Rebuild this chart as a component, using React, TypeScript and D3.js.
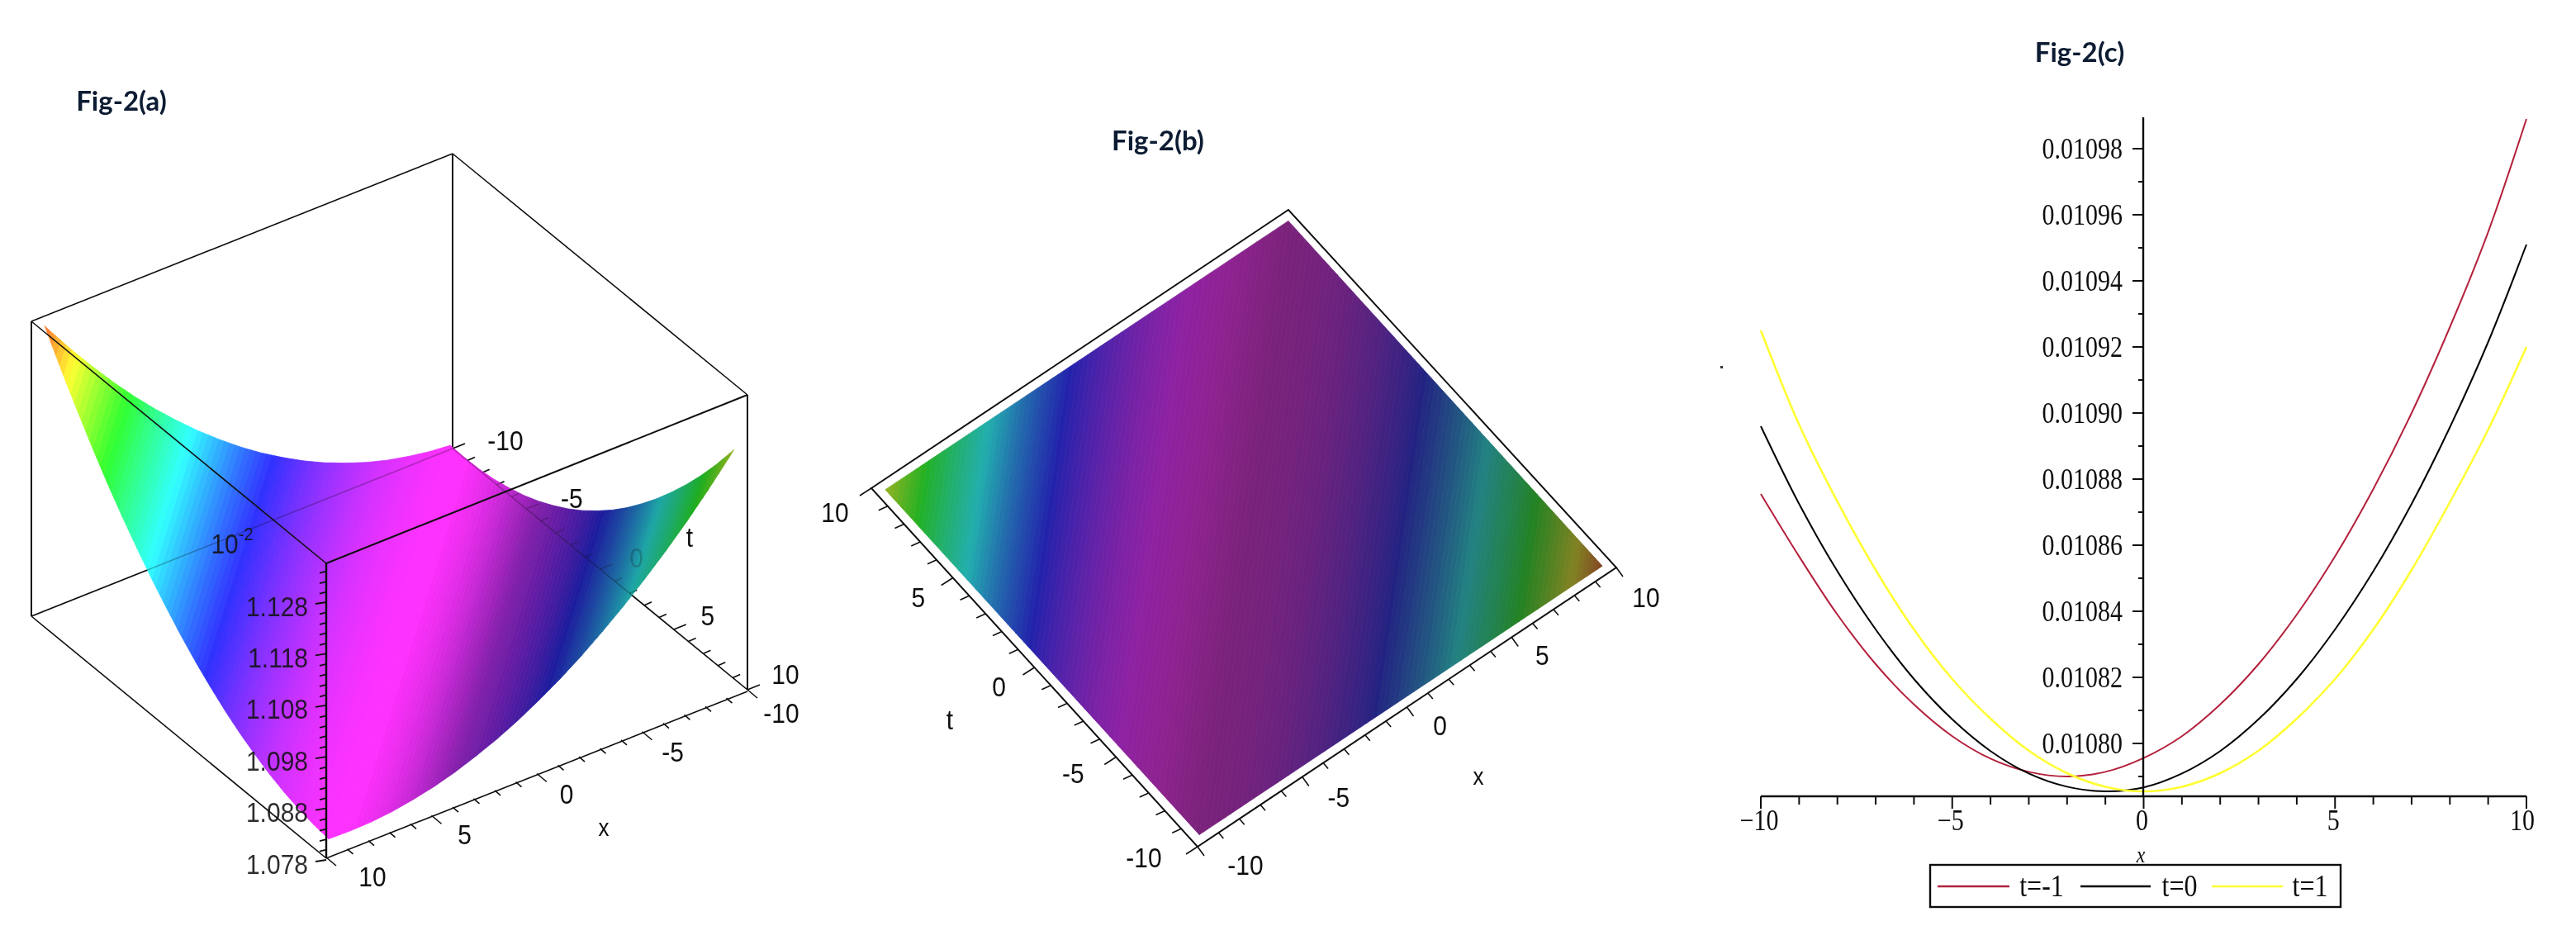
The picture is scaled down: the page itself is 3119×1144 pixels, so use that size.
import React from "react";
import * as d3 from "d3";

// ---------- data ----------
const surfaceD = [-20,-19,-18,-17,-16,-15,-14,-13,-12,-11,-10,-9,-8,-7,-6,-5,-4,-3,-2,-1,0,1,2,3,4,5,6,7,8,9,10,11,12,13,14,15,16,17,18,19,20];
const surfaceZ = [1.1280,1.1231,1.1184,1.1140,1.1099,1.1061,1.1025,1.0992,1.0961,1.0933,1.0908,1.0885,1.0865,1.0848,1.0833,1.0821,1.0812,1.0805,1.0801,1.0800,1.0801,1.0805,1.0812,1.0821,1.0833,1.0848,1.0865,1.0885,1.0908,1.0933,1.0961,1.0992,1.1025,1.1061,1.1099,1.1140,1.1184,1.1231,1.1280,1.1332,1.1387];
const hueZ = [1.08, 1.1385];
const hueValues = [300, 0];
const shadeAD = [-20,-15,-10,-6,-3,-1,20];
const shadeA = [0.58,0.54,0.5,0.54,0.72,0.81,0.81];
const floorA = [30,30,30,32,44,48,48];
const shadeBD = [-20,-10,-5,0,8,20];
const shadeB = [0.56,0.53,0.5,0.34,0.37,0.37];

const zTicksA = ["1.078","1.088","1.098","1.108","1.118","1.128"];
const xTicks3D = [-10,-5,0,5,10];
const minorRange = d3.range(-10, 11);

const lineX = [-10,-9,-8,-7,-6,-5,-4,-3,-2,-1,0,1,2,3,4,5,6,7,8,9,10];
const lineRed = [.0108755,.0108566,.010839,.010824,.0108118,.0108022,.0107954,.0107914,.01079,.0107914,.0107956,.0108022,.0108118,.010824,.010839,.0108566,.010877,.0109,.010926,.0109548,.010989];
const lineBlack = [.010896,.0108725,.0108521,.0108345,.0108195,.0108073,.0107977,.0107909,.0107869,.0107855,.0107867,.0107909,.0107977,.0108073,.0108195,.0108345,.0108521,.0108725,.0108957,.0109215,.010951];
const lineYellow = [.010925,.0108965,.0108732,.0108525,.0108345,.0108195,.0108075,.0107978,.010791,.0107869,.0107855,.0107869,.010791,.0107978,.0108075,.0108195,.0108345,.0108525,.010873,.010895,.01092];
const seriesNames = ["t=-1","t=0","t=1"];
const seriesColors = ["#b3203c","#000000","#ffff33"];
const yTicksC = [.0108,.01082,.01084,.01086,.01088,.0109,.01092,.01094,.01096,.01098];
const xTicksC = [-10,-5,0,5,10];

// ---------- layout ----------
const L = 9.625;
const W = 3119, H = 1144;
const zOf = d3.scaleLinear().domain(surfaceD).range(surfaceZ);
const hueOf = d3.scaleLinear().domain(hueZ).range(hueValues);
const shadeAOf = d3.scaleLinear().domain(shadeAD).range(shadeA);
const floorAOf = d3.scaleLinear().domain(shadeAD).range(floorA);
const shadeBOf = d3.scaleLinear().domain(shadeBD).range(shadeB);
const bands = d3.range(-19.25, 19.25, 0.25);
const path = d3.line<[number, number]>();

const endsOf = (d: number): [number, number][] =>
  d >= 0 ? [[L, L - d], [-L + d, -L]] : [[L + d, L], [-L, -L - d]];

const colorOf = (z: number, s: number, floor: number) => {
  const c = d3.rgb(d3.hsl(hueOf(z), 1, 0.5) as any);
  const f = (v: number) => Math.min(255, Math.round(floor + v * s));
  return `rgb(${f(c.r)},${f(c.g)},${f(c.b)})`;
};

// Fig (a) projection
const aZ = d3.scaleLinear([1.078, 1.128], [0, 312]);
const A = {
  back: [548, 543] as [number, number],
  left: [38, 746] as [number, number],
  right: [905, 835] as [number, number],
  front: [395, 1039] as [number, number],
};
const H_A = 357;
const aP = (x: number, t: number, z = 1.078): [number, number] => {
  const ax = (x + 10) / 20, at = (t + 10) / 20;
  return [
    A.back[0] + ax * (A.left[0] - A.back[0]) + at * (A.right[0] - A.back[0]),
    A.back[1] + ax * (A.left[1] - A.back[1]) + at * (A.right[1] - A.back[1]) - aZ(z),
  ];
};
// Fig (b) projection
const B = {
  bottom: [1450, 1025] as [number, number],
  right: [1957, 687] as [number, number],
  left: [1055, 591] as [number, number],
  top: [1560, 254] as [number, number],
};
const bP = (x: number, t: number): [number, number] => {
  const ax = (x + 10) / 20, at = (t + 10) / 20;
  return [
    B.bottom[0] + ax * (B.right[0] - B.bottom[0]) + at * (B.left[0] - B.bottom[0]),
    B.bottom[1] + ax * (B.right[1] - B.bottom[1]) + at * (B.left[1] - B.bottom[1]),
  ];
};

// Fig (c) scales
const cx = d3.scaleLinear([-10, 10], [2132, 3059]);
const cy = d3.scaleLinear([0.0108, 0.01098], [900, 180]);
const cLine = d3
  .line<number>()
  .x((_, i) => cx(lineX[i]))
  .y((d) => cy(d))
  .curve(d3.curveCatmullRom);

const SANS = "'Liberation Sans', Arial, sans-serif";
const SERIF = "'Liberation Serif', 'Times New Roman', serif";
const TITLE = "Lato, 'Open Sans', sans-serif";

function T({ x, y, children, size = 30, sy = 1.12, anchor = "middle", font = SANS, opacity = 1, fill = "#111", italic = false, weight = 400 }: any) {
  return (
    <text
      transform={`translate(${x},${y}) scale(1,${sy})`}
      textAnchor={anchor}
      fontFamily={font}
      fontSize={size}
      opacity={opacity}
      fill={fill}
      fontStyle={italic ? "italic" : "normal"}
      fontWeight={weight}
      dominantBaseline="central"
    >
      {children}
    </text>
  );
}

const Seg = ({ a, b, w = 1.6, op = 1 }: any) => (
  <line x1={a[0]} y1={a[1]} x2={b[0]} y2={b[1]} stroke="#111" strokeWidth={w} opacity={op} />
);

const add = (p: [number, number], v: number[]): [number, number] => [p[0] + v[0], p[1] + v[1]];

function FigA() {
  const top = (p: [number, number]): [number, number] => [p[0], p[1] - H_A];
  const xLab = [[41, 28], [37, 25], [36, 25], [40, 23], [56, 23]];
  const tLab = [[64, -10], [55, -13], [44, -14], [41, -17], [46, -19]];
  const tTickLen = (v: number) => (v % 5 === 0 ? [15, -6] : [9, -4]);
  const xTickLen = (v: number) => (v % 5 === 0 ? [12, 10] : [7, 6]);
  const zMinor = d3.range(1.078, 1.1357, 0.002);
  const tLabel = (i: number, op: number) => (
    <T x={aP(-10, xTicks3D[i])[0] + tLab[i][0]} y={aP(-10, xTicks3D[i])[1] + tLab[i][1]} opacity={op}>{xTicks3D[i]}</T>
  );
  return (
    <g>
      {/* behind the surface */}
      <Seg a={A.left} b={A.back} />
      <Seg a={A.back} b={A.right} />
      <Seg a={top(A.back)} b={A.back} w={2} />
      {tLabel(0, 1)}
      {tLabel(1, 1)}
      {tLabel(2, 1)}
      {minorRange.map((v) => (
        <Seg key={v} a={aP(-10, v)} b={add(aP(-10, v), tTickLen(v))} w={1.6} />
      ))}
      {/* surface */}
      {bands.map((d) => {
        const d1 = d + 0.25;
        const m = (d + d1) / 2;
        const [a0, b0] = endsOf(d);
        const [a1, b1] = endsOf(d1);
        const z0 = zOf(d), z1 = zOf(d1);
        const c = colorOf(zOf(m), shadeAOf(m), floorAOf(m));
        return (
          <path
            key={d}
            d={path([aP(a0[0], a0[1], z0), aP(a1[0], a1[1], z1), aP(b1[0], b1[1], z1), aP(b0[0], b0[1], z0)])! + "Z"}
            fill={c}
            stroke={c}
            strokeWidth={0.8}
          />
        );
      })}
      {/* lines seen through */}
      <Seg a={A.left} b={A.back} op={0.28} />
      <Seg a={A.back} b={A.right} op={0.3} />
      {minorRange.filter((v) => v < 3).map((v) => (
        <Seg key={v} a={aP(-10, v)} b={add(aP(-10, v), tTickLen(v))} op={0.25} />
      ))}
      {tLabel(1, 0.25)}
      {tLabel(2, 0.22)}
      {/* solid box */}
      <Seg a={top(A.back)} b={top(A.left)} />
      <Seg a={top(A.back)} b={top(A.right)} />
      <Seg a={top(A.left)} b={top(A.front)} />
      <Seg a={top(A.right)} b={top(A.front)} w={2} />
      <Seg a={top(A.left)} b={A.left} w={2} />
      <Seg a={top(A.right)} b={A.right} w={2} />
      <Seg a={top(A.front)} b={A.front} w={2.4} />
      <Seg a={A.left} b={A.front} />
      <Seg a={A.front} b={[A.right[0], A.right[1] + 2]} w={1.6} />
      {/* x ticks */}
      {minorRange.map((v) => (
        <Seg key={v} a={aP(v, 10)} b={add(aP(v, 10), xTickLen(v))} />
      ))}
      {xTicks3D.map((v, i) => (
        <T key={v} x={aP(v, 10)[0] + xLab[i][0]} y={aP(v, 10)[1] + xLab[i][1]}>{v}</T>
      ))}
      <T x={731} y={1002} size={26}>x</T>
      {tLabel(3, 1)}
      {tLabel(4, 1)}
      <T x={835} y={650} size={30}>t</T>
      {/* z axis */}
      {zMinor.map((v, i) => {
        const y = 1039 - aZ(v) + 3;
        const major = i % 5 === 0;
        return <Seg key={i} a={[395 - (major ? 13 : 8), y + 1]} b={[395, y - 1]} w={1.8} />;
      })}
      {zTicksA.map((s) => (
        <T key={s} x={373} y={1039 - aZ(+s) + 7} anchor="end" opacity={0.88}>{s}</T>
      ))}
      <T x={281} y={658} anchor="middle" opacity={0.88}>
        10<tspan dy={-11} fontSize={20}>-2</tspan>
      </T>
      <T x={147} y={121} size={33} sy={1} font={TITLE} weight={700} fill="#0b1a33">Fig-2(a)</T>
    </g>
  );
}

function FigB() {
  const xLab = [[58, 22], [44, 25], [40, 22], [37, 22], [36, 36]];
  const tLab = [[-65, 13], [-52, 20], [-43, 23], [-42, 24], [-44, 29]];
  return (
    <g>
      {bands.map((d) => {
        const d1 = d + 0.25;
        const m = (d + d1) / 2;
        const [a0, b0] = endsOf(d);
        const [a1, b1] = endsOf(d1);
        const c = colorOf(zOf(m), shadeBOf(m), 36);
        return (
          <path
            key={d}
            d={path([bP(a0[0], a0[1]), bP(a1[0], a1[1]), bP(b1[0], b1[1]), bP(b0[0], b0[1])])! + "Z"}
            fill={c}
            stroke={c}
            strokeWidth={0.8}
          />
        );
      })}
      <path d={path([B.left, B.top, B.right, B.bottom])! + "Z"} fill="none" stroke="#111" strokeWidth={2} />
      {minorRange.map((v) => {
        const p = bP(v, -10);
        const l = v % 5 === 0 ? [8, 11] : [6, 7];
        return <Seg key={v} a={p} b={add(p, l)} />;
      })}
      {minorRange.map((v) => {
        const p = bP(-10, v);
        const l = v % 5 === 0 ? [-14, 9] : [-11, 5];
        return <Seg key={v} a={p} b={add(p, l)} />;
      })}
      {xTicks3D.map((v, i) => (
        <T key={v} x={bP(v, -10)[0] + xLab[i][0]} y={bP(v, -10)[1] + xLab[i][1]}>{v}</T>
      ))}
      {xTicks3D.map((v, i) => (
        <T key={v} x={bP(-10, v)[0] + tLab[i][0]} y={bP(-10, v)[1] + tLab[i][1]}>{v}</T>
      ))}
      <T x={1790} y={940} size={26}>x</T>
      <T x={1150} y={871}>t</T>
      <T x={1402} y={169} size={33} sy={1} font={TITLE} weight={700} fill="#0b1a33">Fig-2(b)</T>
    </g>
  );
}

function FigC() {
  const lines = [lineRed, lineBlack, lineYellow];
  const widths = [2, 2, 2.6];
  const yMinor = d3.range(0, 20).map((i) => 0.01079 + i * 0.00001);
  const legendLines = [[2346, 2433], [2519, 2604], [2678, 2764]];
  const legendText = [2472, 2639, 2797];
  return (
    <g>
      <rect x={2083} y={443} width={3} height={3} fill="#333" />
      {lines.map((s, i) => (
        <path key={i} d={cLine(s)!} fill="none" stroke={seriesColors[i]} strokeWidth={widths[i]} />
      ))}
      <Seg a={[2595, 142]} b={[2595, 964]} w={2.4} />
      <Seg a={[cx(-10), 964]} b={[cx(10), 964]} w={2.4} />
      {yMinor.filter((v) => cy(v) < 960 && cy(v) > 145).map((v, i) => (
        <Seg key={i} a={[2595 - 6, cy(v)]} b={[2595, cy(v)]} w={2} />
      ))}
      {yTicksC.map((v) => (
        <g key={v}>
          <Seg a={[2595 - 13, cy(v)]} b={[2595, cy(v)]} w={2} />
          <T x={2570} y={cy(v)} anchor="end" font={SERIF} size={30} sy={1.18}>{v.toFixed(5)}</T>
        </g>
      ))}
      {minorRange.map((v) => (
        <Seg key={v} a={[cx(v), 964]} b={[cx(v), 964 + (v % 5 === 0 ? 15 : 10)]} w={2} />
      ))}
      {xTicksC.map((v) => (
        <T key={v} x={cx(v) - (v === 10 ? 5 : 2)} y={993} font={SERIF} size={30} sy={1.18}>
          {v < 0 ? `\u2212${-v}` : v}
        </T>
      ))}
      <T x={2592} y={1035} font={SERIF} size={24} italic>x</T>
      <rect x={2337} y={1047} width={497} height={51} fill="#fff" stroke="#111" strokeWidth={2.4} />
      {seriesNames.map((n, i) => (
        <g key={n}>
          <line x1={legendLines[i][0]} x2={legendLines[i][1]} y1={1073} y2={1073} stroke={seriesColors[i]} strokeWidth={2.4} />
          <T x={legendText[i]} y={1073} font={SERIF} size={32} sy={1.18}>{n}</T>
        </g>
      ))}
      <T x={2518} y={62} size={33} sy={1} font={TITLE} weight={700} fill="#0b1a33">Fig-2(c)</T>
    </g>
  );
}

export default function App() {
  return (
    <svg width={W} height={H} viewBox={`0 0 ${W} ${H}`} style={{ position: "absolute", left: 0, top: 0, background: "#fff" }}>
      <defs>
        <filter id="soft" x="0" y="0" width={W} height={H} filterUnits="userSpaceOnUse">
          <feGaussianBlur stdDeviation="0.6" />
        </filter>
      </defs>
      <g filter="url(#soft)">
        <rect x={0} y={0} width={W} height={H} fill="#fff" />
        <FigA />
        <FigB />
        <FigC />
      </g>
    </svg>
  );
}
